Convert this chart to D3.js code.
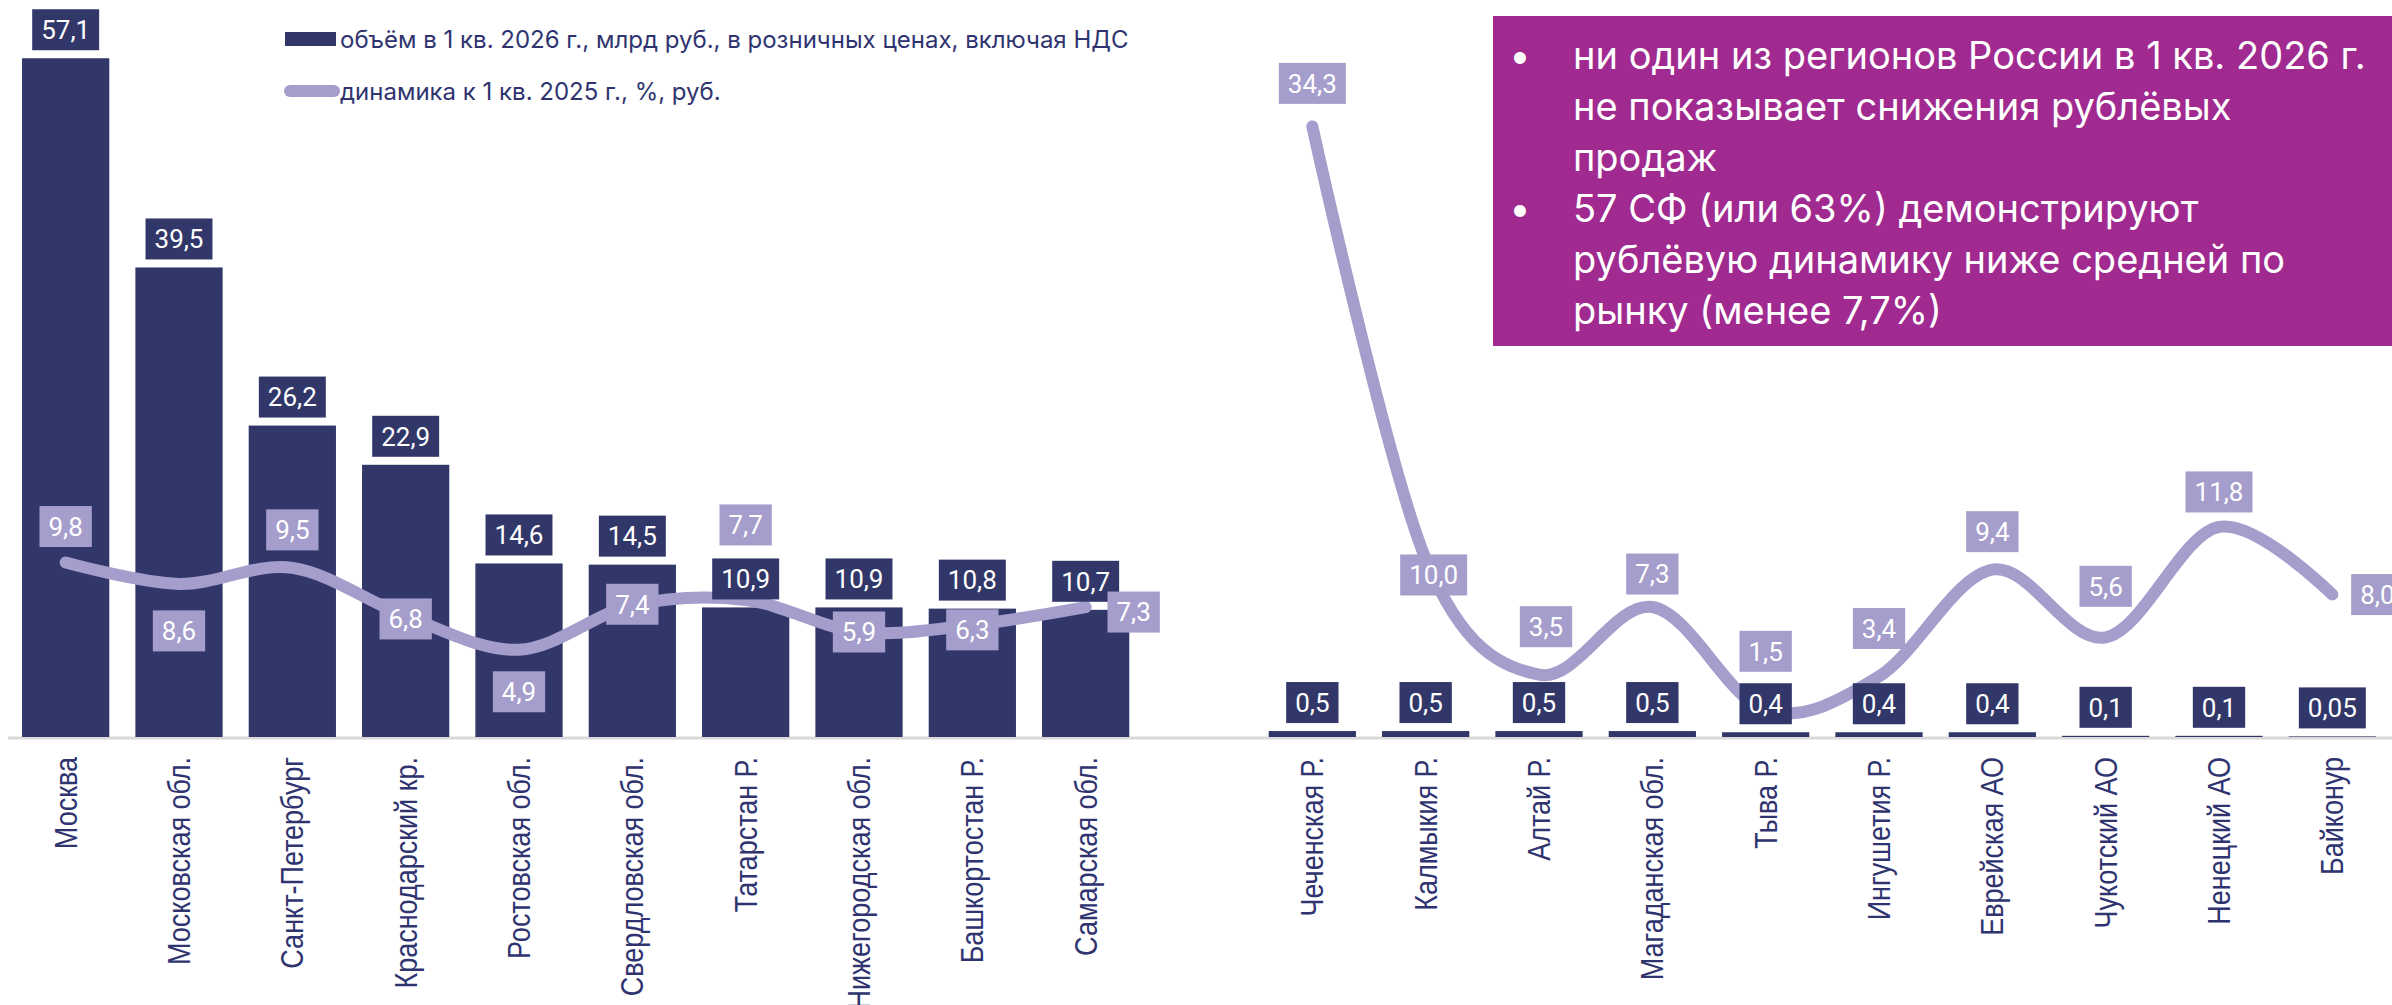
<!DOCTYPE html>
<html><head><meta charset="utf-8">
<script src="https://cdn.jsdelivr.net/npm/d3@7"></script>
<style>
html,body{margin:0;padding:0;background:#fff;}
svg{display:block;}
</style></head>
<body>
<svg id="chart" width="2392" height="1005"></svg>
<script>
// ---- DATA ----
const categories = ["Москва","Московская обл.","Санкт-Петербург","Краснодарский кр.","Ростовская обл.","Свердловская обл.","Татарстан Р.","Нижегородская обл.","Башкортостан Р.","Самарская обл.","",
  "Чеченская Р.","Калмыкия Р.","Алтай Р.","Магаданская обл.","Тыва Р.","Ингушетия Р.","Еврейская АО","Чукотский АО","Ненецкий АО","Байконур"];
const volume = [57.1,39.5,26.2,22.9,14.6,14.5,10.9,10.9,10.8,10.7,null,0.5,0.5,0.5,0.5,0.4,0.4,0.4,0.1,0.1,0.05];
const volumeLabels = ["57,1","39,5","26,2","22,9","14,6","14,5","10,9","10,9","10,8","10,7","","0,5","0,5","0,5","0,5","0,4","0,4","0,4","0,1","0,1","0,05"];
const growth = [9.8,8.6,9.5,6.8,4.9,7.4,7.7,5.9,6.3,7.3,null,34.3,10.0,3.5,7.3,1.5,3.4,9.4,5.6,11.8,8.0];
const growthLabels = ["9,8","8,6","9,5","6,8","4,9","7,4","7,7","5,9","6,3","7,3","","34,3","10,0","3,5","7,3","1,5","3,4","9,4","5,6","11,8","8,0"];
const legendLabels = ["объём в 1 кв. 2026 г., млрд руб., в розничных ценах, включая НДС","динамика к 1 кв. 2025 г., %, руб."];
const noteLines = [
  {bullet:true, text:"ни один из регионов России в 1 кв. 2026 г."},
  {bullet:false,text:"не показывает снижения рублёвых"},
  {bullet:false,text:"продаж"},
  {bullet:true, text:"57 СФ (или 63%) демонстрируют"},
  {bullet:false,text:"рублёвую динамику ниже средней по"},
  {bullet:false,text:"рынку (менее 7,7%)"}
];

// ---- LAYOUT (label placement for the line series, px offsets of label centre from point) ----
const growthLabelOffset = [[0,-36],[0,47],[0,-38],[0,3],[0,42],[0,-1],[0,-75],[0,0],[0,5],[48,5],null,
  [0,-43],[8,16],[7,-48],[0,-33],[0,-59],[0,-48],[0,-38],[0,-51],[0,-35],[45,0]];

const C = {bar:"#32376a", line:"#a59dcb", note:"#a02a8f", axis:"#d9d9d9", text:"#2f3470"};
const svg = d3.select("#chart");
const baseY = 737;

const x = d3.scaleBand().domain(d3.range(categories.length)).range([9,2389]).paddingInner(0.23).paddingOuter(0.115);
const yBar = d3.scaleLinear().domain([0,62]).range([baseY,0]);
const yLine = d3.scaleLinear().domain([0,41.4]).range([baseY,0]);
const cx = i => x(i) + x.bandwidth()/2;

// axis baseline
svg.append("line").attr("x1",8).attr("x2",2392).attr("y1",baseY+1).attr("y2",baseY+1)
  .attr("stroke",C.axis).attr("stroke-width",3);

// bars
svg.append("g").selectAll("rect").data(volume.map((v,i)=>({v,i})).filter(d=>d.v!=null))
  .join("rect").attr("x",d=>x(d.i)).attr("width",x.bandwidth())
  .attr("y",d=>yBar(d.v)).attr("height",d=>baseY-yBar(d.v)).attr("fill",C.bar);

// category labels
const xAxis = d3.axisBottom(x).tickSize(0).tickFormat(i=>categories[i]);
const gx = svg.append("g").attr("transform",`translate(0,${baseY})`).call(xAxis);
gx.select(".domain").remove();
gx.selectAll("text").attr("font-family","'Liberation Sans', Arial, sans-serif").attr("font-size",27)
  .attr("fill",C.text).attr("text-anchor","end").attr("transform","rotate(-90) scale(1,1.13)")
  .attr("x",-20).attr("y",0).attr("dy","0.36em");

// line
const line = d3.line().defined(d=>d!=null).x((d,i)=>cx(i)).y(d=>yLine(d)).curve(d3.curveCatmullRom.alpha(0));
svg.append("path").datum(growth).attr("d",line).attr("fill","none").attr("stroke",C.line)
  .attr("stroke-width",12).attr("stroke-linecap","round").attr("stroke-linejoin","round");

// label helper
function boxLabel(g, cxp, cyp, txt, fill){
  const grp = g.append("g");
  const t = grp.append("text").text(txt).attr("x",cxp).attr("y",cyp).attr("dy","0.36em")
    .attr("text-anchor","middle").attr("font-family","Roboto, 'Noto Sans', sans-serif")
    .attr("font-size",26).attr("fill","#fff");
  const w = t.node().getComputedTextLength() + 18;
  grp.insert("rect","text").attr("x",cxp-w/2).attr("y",cyp-20.5).attr("width",w).attr("height",41).attr("fill",fill);
}
const gl = svg.append("g");
// bar labels
volume.forEach((v,i)=>{ if(v==null) return; boxLabel(gl, cx(i), yBar(v)-8-20.5, volumeLabels[i], C.bar); });
// line labels
growth.forEach((v,i)=>{ if(v==null) return; const o = growthLabelOffset[i];
  let px = cx(i)+o[0], py = yLine(v)+o[1];
  boxLabel(gl, px, py, growthLabels[i], C.line); });

// legend
const lg = svg.append("g");
lg.append("rect").attr("x",285).attr("y",32).attr("width",51).attr("height",14).attr("fill",C.bar);
lg.append("line").attr("x1",290).attr("x2",334).attr("y1",91).attr("y2",91).attr("stroke",C.line).attr("stroke-width",12).attr("stroke-linecap","round");
legendLabels.forEach((s,k)=>{
  lg.append("text").text(s).attr("x",340).attr("y",k?91:39).attr("dy","0.36em")
    .attr("font-family","Inter, sans-serif").attr("font-size",24).attr("fill",C.text);
});

// annotation box
const ng = svg.append("g");
ng.append("rect").attr("x",1493).attr("y",16).attr("width",2392-1493).attr("height",330).attr("fill",C.note);
noteLines.forEach((l,k)=>{
  const yb = 69 + k*51;
  if(l.bullet) ng.append("text").text("•").attr("x",1520).attr("y",yb).attr("text-anchor","middle")
    .attr("font-family","Inter, sans-serif").attr("font-size",38).attr("fill","#fff");
  ng.append("text").text(l.text).attr("x",1573).attr("y",yb)
    .attr("font-family","Inter, sans-serif").attr("font-size",38).attr("fill","#fff");
});
</script>
</body></html>
